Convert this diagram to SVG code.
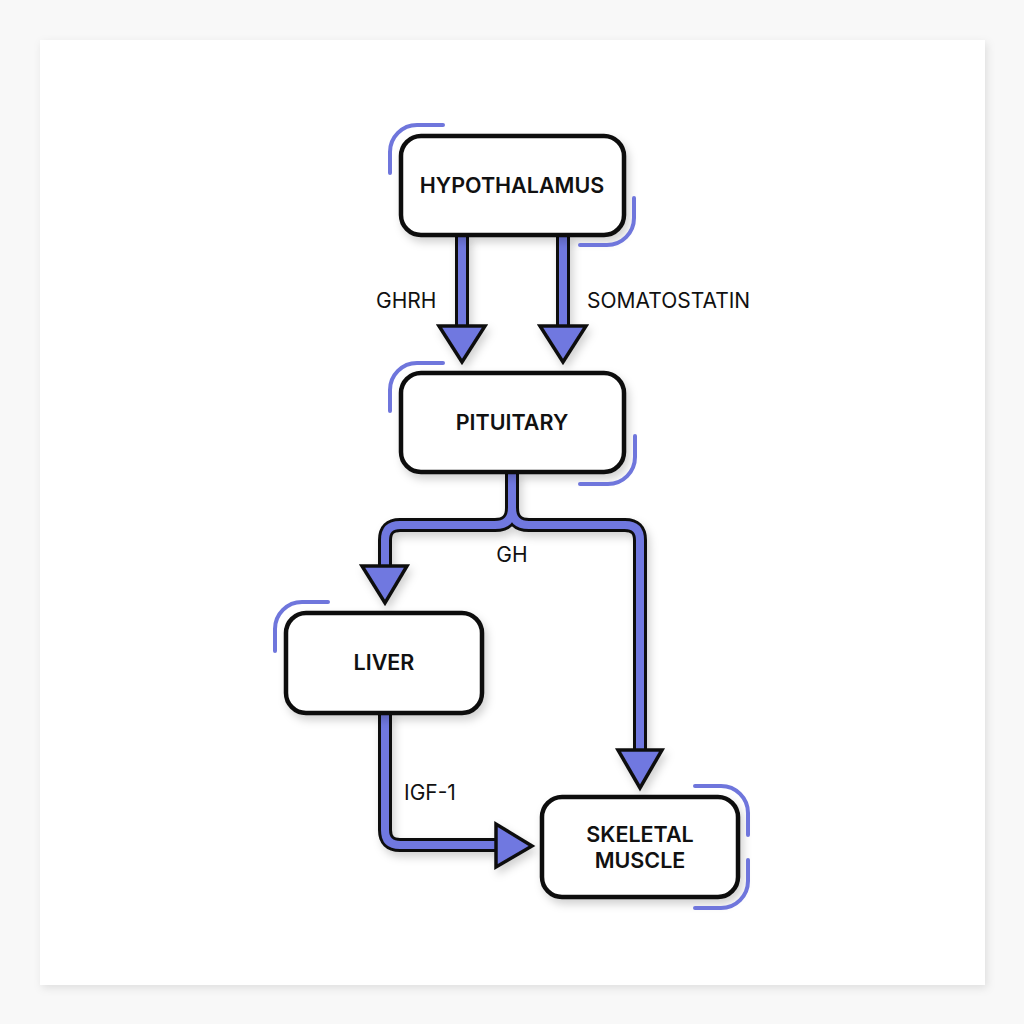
<svg xmlns="http://www.w3.org/2000/svg" width="1024" height="1024" viewBox="0 0 1024 1024">
<defs>
<filter id="sh" x="-20%" y="-20%" width="140%" height="150%">
<feDropShadow dx="3" dy="5" stdDeviation="4" flood-color="#000" flood-opacity="0.18"/>
</filter>
<filter id="card" x="-5%" y="-5%" width="110%" height="110%">
<feDropShadow dx="2" dy="3" stdDeviation="4" flood-color="#000" flood-opacity="0.10"/>
</filter>
<style>
.box{fill:#fff;stroke:#111;stroke-width:4.5}
.acc{fill:none;stroke:#6f76dc;stroke-width:4;stroke-linecap:round}
.lbl{font-family:Inter,"Liberation Sans",sans-serif;font-weight:600;font-size:21.5px;fill:#111;text-anchor:middle}
.elbl{font-family:Inter,"Liberation Sans",sans-serif;font-weight:400;font-size:21px;fill:#111}
.out{fill:none;stroke:#111;stroke-width:14;stroke-linejoin:round}
.in{fill:none;stroke:#7078e0;stroke-width:8;stroke-linejoin:round}
.head{fill:#7078e0;stroke:#111;stroke-width:3.5;stroke-linejoin:miter}
</style>
</defs>
<rect width="1024" height="1024" fill="#f8f8f8"/>
<rect x="40" y="40" width="945" height="945" fill="#fff" filter="url(#card)"/>

<g id="connectors">
<g filter="url(#sh)">
<path class="out" d="M462,236 V328 M563,236 V328 M512,472 V508 Q512,525 495,525 H400 Q385,525 385,540 V568 M512,508 Q512,525 529,525 H625 Q640,525 640,540 V752 M385,713 V830 Q385,845 400,845 H497"/>
<path class="in" d="M462,234 V330 M563,234 V330 M512,470 V508 Q512,525 495,525 H400 Q385,525 385,540 V570 M512,508 Q512,525 529,525 H625 Q640,525 640,540 V754 M385,711 V830 Q385,845 400,845 H499"/>
<polygon class="head" points="439,326 485,326 462,362"/>
<polygon class="head" points="540,326 586,326 563,362"/>
<polygon class="head" points="362,566 407,566 385,603"/>
<polygon class="head" points="618,750 662,750 640,788"/>
<polygon class="head" points="496,824 496,867 532,846"/>
</g>
<text class="elbl" x="376" y="308">GHRH</text>
<text class="elbl" x="587" y="308">SOMATOSTATIN</text>
<text class="elbl" x="512" y="562" text-anchor="middle">GH</text>
<text class="elbl" x="404" y="800">IGF-1</text>
</g>

<g id="hypothalamus">
<rect class="box" x="401" y="136" width="223" height="99" rx="20" filter="url(#sh)"/>
<path class="acc" d="M390,173 V152 A27,27 0 0 1 417,125 H443"/>
<path class="acc" d="M634,198 V218 A27,27 0 0 1 607,245 H580"/>
<text class="lbl" x="512" y="193">HYPOTHALAMUS</text>
</g>

<g id="pituitary">
<rect class="box" x="401" y="373" width="223" height="99" rx="20" filter="url(#sh)"/>
<path class="acc" d="M390,411 V390 A27,27 0 0 1 417,363 H443"/>
<path class="acc" d="M635,436 V457 A27,27 0 0 1 608,484 H580"/>
<text class="lbl" x="512" y="430">PITUITARY</text>
</g>

<g id="liver">
<rect class="box" x="286" y="613" width="196" height="100" rx="20" filter="url(#sh)"/>
<path class="acc" d="M275,651 V629 A27,27 0 0 1 302,602 H328"/>
<text class="lbl" x="384" y="670">LIVER</text>
</g>

<g id="skeletal-muscle">
<rect class="box" x="542" y="797" width="196" height="100" rx="20" filter="url(#sh)"/>
<path class="acc" d="M695,786 H721 A27,27 0 0 1 748,813 V835"/>
<path class="acc" d="M748,860 V881 A27,27 0 0 1 721,908 H695"/>
<text class="lbl" x="640" y="842">SKELETAL</text>
<text class="lbl" x="640" y="868">MUSCLE</text>
</g>
</svg>
